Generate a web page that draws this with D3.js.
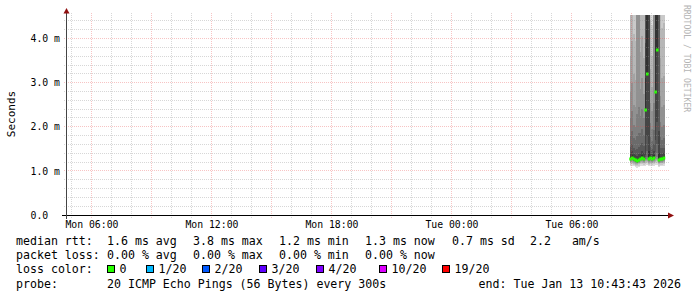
<!DOCTYPE html>
<html>
<head>
<meta charset="utf-8">
<script src="https://cdn.jsdelivr.net/npm/d3@7"></script>
<style>
body{margin:0;background:#fff}
text{font-family:"DejaVu Sans Mono",monospace}
</style>
</head>
<body>
<svg id="chart" width="697" height="297"></svg>
<script>
// graph window (end time printed in legend)
var startTime = "2026-01-12T04:43:43Z"
var endTime = "2026-01-13T10:43:43Z"
var yMax = 4.535 // ms, top of plot

var yTicks = [0,1,2,3,4]
var yLabels = ["0.0  ","1.0 m","2.0 m","3.0 m","4.0 m"]
var xTickTimes = ["2026-01-12T06:00:00Z","2026-01-12T12:00:00Z","2026-01-12T18:00:00Z","2026-01-13T00:00:00Z","2026-01-13T06:00:00Z"]

// smokeping samples, 300s step, first step ends at 09:00
var firstStep = "2026-01-13T09:00:00Z"
var stepSec = 300
var median = [1.28,1.30,1.27,1.24,1.22,1.25,1.28,1.30,1.27,2.39,3.20,1.27,1.29,1.28,1.30,2.80,3.75,1.25,1.27,1.28,1.29]
var pings = [
 [1.10,1.14,1.17,1.19,1.21,1.23,1.24,1.25,1.26,1.28,1.32,1.40,1.55,1.80,2.20,2.80,3.60,6.2,8.5,11.0],
 [1.12,1.15,1.18,1.20,1.22,1.24,1.26,1.27,1.28,1.30,1.35,1.45,1.62,1.90,2.35,3.00,3.95,5.9,7.4,9.8],
 [1.11,1.14,1.16,1.18,1.20,1.22,1.23,1.24,1.26,1.27,1.31,1.39,1.52,1.75,2.05,2.50,3.20,4.10,6.8,9.1],
 [1.08,1.12,1.14,1.16,1.18,1.20,1.21,1.22,1.23,1.24,1.28,1.35,1.48,1.70,2.00,2.45,3.05,3.95,7.2,10.5],
 [1.07,1.10,1.13,1.15,1.17,1.18,1.19,1.20,1.21,1.22,1.26,1.34,1.50,1.78,2.30,5.2,6.5,8.0,9.4,12.0],
 [1.09,1.12,1.15,1.17,1.19,1.21,1.22,1.23,1.24,1.25,1.29,1.38,1.55,1.85,2.45,5.6,6.9,8.3,10.2,12.6],
 [1.11,1.15,1.18,1.20,1.22,1.24,1.25,1.26,1.27,1.28,1.32,1.41,1.58,1.85,2.25,2.85,3.70,5.8,7.7,10.1],
 [1.12,1.16,1.19,1.21,1.23,1.25,1.27,1.28,1.29,1.30,1.35,1.45,1.63,1.95,2.40,3.10,4.05,6.1,8.2,9.6],
 [1.10,1.14,1.17,1.19,1.21,1.23,1.24,1.25,1.26,1.27,1.31,1.40,1.56,1.82,2.20,2.75,3.55,5.4,7.0,9.2],
 [1.12,1.16,1.19,1.22,1.24,1.26,1.28,1.31,1.36,2.39,3.10,3.90,5.2,6.2,7.1,8.0,9.3,10.7,12.4,14.0],
 [1.13,1.17,1.20,1.23,1.25,1.28,1.32,1.45,1.80,3.20,4.9,5.5,6.2,6.9,7.8,8.8,9.9,11.2,12.8,14.5],
 [1.10,1.13,1.16,1.18,1.20,1.22,1.24,1.25,1.26,1.27,1.45,4.9,5.6,6.3,7.0,7.9,8.8,9.9,11.3,13.0],
 [1.12,1.15,1.18,1.20,1.22,1.24,1.26,1.27,1.28,1.29,1.33,1.41,1.54,1.76,2.08,2.55,3.30,4.40,7.0,8.8],
 [1.11,1.14,1.17,1.19,1.21,1.23,1.25,1.26,1.27,1.28,1.32,1.39,1.50,1.68,1.95,2.35,2.90,3.60,4.30,7.9],
 [1.12,1.16,1.19,1.21,1.23,1.25,1.27,1.28,1.29,1.30,1.35,1.45,1.62,1.92,2.55,5.3,6.4,7.6,9.0,11.4],
 [1.13,1.17,1.20,1.23,1.26,1.29,1.33,1.42,1.70,2.80,5.0,5.7,6.5,7.3,8.2,9.3,10.5,11.8,13.1,14.8],
 [1.14,1.18,1.22,1.25,1.28,1.32,1.40,1.60,2.10,3.75,4.8,5.4,6.1,6.8,7.7,8.6,9.8,11.0,12.5,14.0],
 [1.09,1.12,1.15,1.17,1.19,1.21,1.22,1.23,1.24,1.25,1.40,1.90,5.1,5.9,6.7,7.6,8.5,9.6,10.9,12.2],
 [1.10,1.14,1.17,1.19,1.21,1.23,1.24,1.25,1.26,1.27,1.31,1.39,1.53,1.76,2.12,2.70,3.55,5.7,7.3,9.9],
 [1.11,1.14,1.17,1.19,1.21,1.23,1.25,1.26,1.27,1.28,1.32,1.39,1.51,1.71,2.00,2.45,3.10,4.25,6.9,9.5],
 [1.12,1.15,1.18,1.20,1.22,1.24,1.26,1.27,1.28,1.29,1.33,1.40,1.53,1.74,2.04,2.50,3.15,4.35,7.1,9.7]
]

// legend
var rttItems = ["median rtt:","1.6 ms avg","3.8 ms max","1.2 ms min","1.3 ms now","0.7 ms sd","2.2   am/s"]
var lossItems = ["packet loss:","0.00 % avg","0.00 % max","0.00 % min","0.00 % now"]
var lossLabels = ["0","1/20","2/20","3/20","4/20","10/20","19/20"]
var lossColors = ["#26ff00","#00b8ff","#0059ff","#5e00ff","#7e00ff","#dd00ff","#ff0000"]
var probeText = "20 ICMP Echo Pings (56 Bytes) every 300s"
var endText = "end: Tue Jan 13 10:43:43 2026"

// layout only
var colX = [16,107,193,279,365,452,530]
var boxX = [107,146,202,259,316,379,442]

var svg = d3.select("#chart")
var x = d3.scaleUtc().domain([new Date(startTime), new Date(endTime)]).range([66,666])
var y = d3.scaleLinear().domain([0,yMax]).range([215,15])
var px = function(v){return Math.floor(v)+0.5}
var t0 = new Date(firstStep).getTime()
var stepX0 = function(i){return x(new Date(t0+(i-1)*stepSec*1000))}
var stepX1 = function(i){return x(new Date(t0+i*stepSec*1000))}

svg.append("clipPath").attr("id","plot").append("rect")
    .attr("x",66).attr("y",15).attr("width",600).attr("height",200)

// smoke: pairs of sorted pings, outer pairs light, inner pairs dark
var smoke = svg.append("g").attr("clip-path","url(#plot)")
for(var ib=0;ib<10;ib++)
{
    var g = Math.floor(190/10*(10-(ib+1)))+50
    smoke.append("g").selectAll("rect")
        .data(pings)
        .enter().append("rect")
        .attr("x", function(d,i){return stepX0(i)})
        .attr("width", function(d,i){return stepX1(i)-stepX0(i)})
        .attr("y", function(d){return y(d[19-ib])})
        .attr("height", function(d){return y(d[ib])-y(d[19-ib])})
        .attr("fill", d3.rgb(g,g,g))
        .attr("shape-rendering","crispEdges")
}
// median, coloured by loss (all 0 here)
smoke.append("g").selectAll("rect")
    .data(median)
    .enter().append("rect")
    .attr("x", function(d,i){return stepX0(i)-0.5})
    .attr("width", function(d,i){return stepX1(i)-stepX0(i)+1})
    .attr("y", function(d){return Math.round(y(d))-1.5})
    .attr("height", 3)
    .attr("fill", lossColors[0])

// grid on top, rrdtool style
var minorC = "rgba(150,150,150,0.38)"
var majorC = "rgba(230,70,70,0.32)"
var hours = d3.utcHour.range(x.domain()[0], x.domain()[1])
svg.append("g").selectAll("line")
    .data(hours)
    .enter().append("line")
    .attr("x1", function(d){return px(x(d))})
    .attr("x2", function(d){return px(x(d))})
    .attr("y1", 13).attr("y2", 218)
    .attr("stroke", function(d){return d.getUTCHours()%3==0 ? majorC : minorC})
    .attr("stroke-dasharray","1,1")
var hLines = d3.range(1,23).map(function(i){return i*0.2})
svg.append("g").selectAll("line")
    .data(hLines)
    .enter().append("line")
    .attr("x1", 64).attr("x2", 669)
    .attr("y1", function(d){return px(y(d))})
    .attr("y2", function(d){return px(y(d))})
    .attr("stroke", function(d,i){return (i+1)%5==0 ? majorC : minorC})
    .attr("stroke-dasharray","1,1")

// axes + arrows
svg.append("line").attr("x1",62).attr("x2",668).attr("y1",215.5).attr("y2",215.5).attr("stroke","#000")
svg.append("line").attr("x1",66.5).attr("x2",66.5).attr("y1",12).attr("y2",219).attr("stroke","#444")
svg.append("path").attr("d","M66.5,8L63.5,13.5L69.5,13.5Z").attr("fill","#901010")
svg.append("path").attr("d","M674,215.5L668,212.5L668,218.5Z").attr("fill","#901010")

var xAxis = svg.append("g").attr("transform","translate(0,215)")
    .call(d3.axisBottom(x).tickValues(xTickTimes.map(function(s){return new Date(s)}))
        .tickFormat(d3.utcFormat("%a %H:%M")).tickSize(0).tickPadding(6))
xAxis.select(".domain").remove()
xAxis.selectAll("text").attr("font-family","DejaVu Sans Mono").attr("font-size","9.8px").attr("fill","#000")

var yAxis = svg.append("g").attr("transform","translate(67,0)")
    .call(d3.axisLeft(y).tickValues(yTicks).tickFormat(function(d,i){return yLabels[i]}).tickSize(0).tickPadding(7))
yAxis.select(".domain").remove()
yAxis.selectAll("text").attr("font-family","DejaVu Sans Mono").attr("font-size","9.8px").attr("fill","#000")
    .attr("xml:space","preserve").style("white-space","pre")

svg.append("text").attr("transform","translate(15,114) rotate(-90)")
    .attr("text-anchor","middle").attr("font-family","DejaVu Sans").attr("font-size","11px")
    .text("Seconds")

svg.append("text").attr("transform","translate(683.5,5) rotate(90)")
    .attr("font-size","8.1px").attr("fill","#b4b4b4")
    .text("RRDTOOL / TOBI OETIKER")

// legend rows
var leg = svg.append("g").attr("font-size","11.6px").attr("fill","#000")
var rowY = function(r){return 245+r*14.2}
leg.selectAll("text.rtt").data(rttItems).enter().append("text")
    .attr("x", function(d,i){return colX[i]}).attr("y", rowY(0))
    .attr("xml:space","preserve").style("white-space","pre").text(function(d){return d})
leg.selectAll("text.loss").data(lossItems).enter().append("text")
    .attr("x", function(d,i){return colX[i]}).attr("y", rowY(1)).text(function(d){return d})
leg.append("text").attr("x",colX[0]).attr("y",rowY(2)).text("loss color:")
leg.selectAll("rect").data(lossColors).enter().append("rect")
    .attr("x", function(d,i){return boxX[i]+0.5}).attr("y", Math.round(rowY(2))-7.5)
    .attr("width",7).attr("height",7)
    .attr("fill", function(d){return d}).attr("stroke","#000").attr("stroke-width",1)
leg.selectAll("text.lc").data(lossLabels).enter().append("text")
    .attr("x", function(d,i){return boxX[i]+12.5}).attr("y", rowY(2)).text(function(d){return d})
leg.append("text").attr("x",colX[0]).attr("y",rowY(3)).text("probe:")
leg.append("text").attr("x",colX[1]).attr("y",rowY(3)).text(probeText)
leg.append("text").attr("x",681).attr("y",rowY(3)).attr("text-anchor","end").text(endText)
</script>
</body>
</html>
